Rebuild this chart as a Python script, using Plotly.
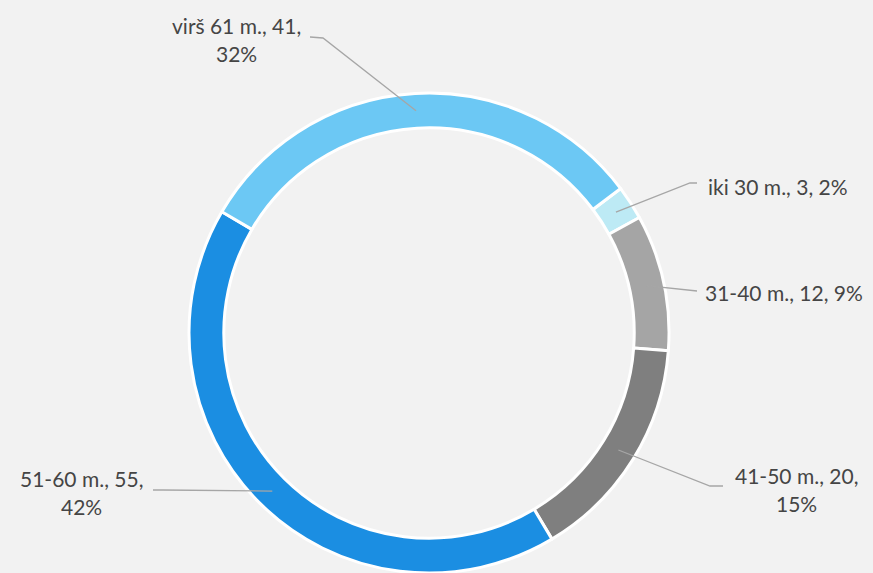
import math
import plotly.graph_objects as go

# Age groups, counts and shares shown on the ring
groups = ["iki 30 m.", "31-40 m.", "41-50 m.", "51-60 m.", "virš 61 m."]
counts = [3, 12, 20, 55, 41]
shares = ["2%", "9%", "15%", "42%", "32%"]
colors = ["#BDEAF5", "#A5A5A5", "#7F7F7F", "#1B8EE2", "#6CC8F4"]

# Label lines as laid out around the ring
label_lines = [
    ["iki 30 m., 3, 2%"],
    ["31-40 m., 12, 9%"],
    ["41-50 m., 20,", "15%"],
    ["51-60 m., 55,", "42%"],
    ["virš 61 m., 41,", "32%"],
]

W, H = 873, 573
CX, CY, R_OUT = 429, 333, 240
HOLE = 0.855
ROTATION = 53  # first slice starts 53 degrees clockwise from 12 o'clock
LINE_GAP = 28

# First-line anchor (pixel), alignment, and elbow points of leader lines
label_layout = [
    dict(x=706, y=186, xanchor="left", elbow=[(697, 183), (690, 183)]),
    dict(x=703, y=292, xanchor="left", elbow=[(697, 291)]),
    dict(x=796, y=475, xanchor="center", elbow=[(723, 486), (710, 486)]),
    dict(x=81, y=478, xanchor="center", elbow=[(153, 490), (163, 490)]),
    dict(x=236, y=25, xanchor="center", elbow=[(310, 37), (323, 38)]),
]

fig = go.Figure()

fig.add_trace(go.Pie(
    labels=groups,
    values=counts,
    sort=False,
    direction="clockwise",
    rotation=ROTATION,
    hole=HOLE,
    textinfo="none",
    hoverinfo="label+value+percent",
    marker=dict(colors=colors, line=dict(color="#FFFFFF", width=3)),
    domain=dict(x=[(CX - R_OUT) / W, (CX + R_OUT) / W],
                y=[(H - CY - R_OUT) / H, (H - CY + R_OUT) / H]),
    showlegend=False,
))

# Invisible pixel-space axes used for leader lines
fig.add_trace(go.Scatter(x=[0, W], y=[0, H], mode="markers",
                         marker=dict(opacity=0), hoverinfo="skip", showlegend=False))

total = sum(counts)
r_mid = R_OUT * (1 + HOLE) / 2
acc = 0
for i, v in enumerate(counts):
    mid = math.radians(ROTATION + (acc + v / 2) / total * 360)
    acc += v
    px = CX + r_mid * math.sin(mid)
    py = CY - r_mid * math.cos(mid)
    lay = label_layout[i]
    pts = lay["elbow"] + [(px, py)]
    path = "M " + " L ".join(f"{a:.1f},{b:.1f}" for a, b in pts)
    fig.add_shape(type="path", path=path, xref="x", yref="y",
                  line=dict(color="#A6A6A6", width=1.3))
    for k, line in enumerate(label_lines[i]):
        fig.add_annotation(x=lay["x"], y=lay["y"] + k * LINE_GAP, xref="x", yref="y",
                           text=line, showarrow=False,
                           xanchor=lay["xanchor"], yanchor="middle", align="center",
                           font=dict(family="Lato", size=21, color="#454545"))

fig.update_layout(
    width=W, height=H,
    margin=dict(l=0, r=0, t=0, b=0),
    paper_bgcolor="#F2F2F2",
    plot_bgcolor="rgba(0,0,0,0)",
    xaxis=dict(range=[0, W], visible=False, domain=[0, 1], fixedrange=True),
    yaxis=dict(range=[H, 0], visible=False, domain=[0, 1], fixedrange=True),
)

fig.write_html("out.html")
